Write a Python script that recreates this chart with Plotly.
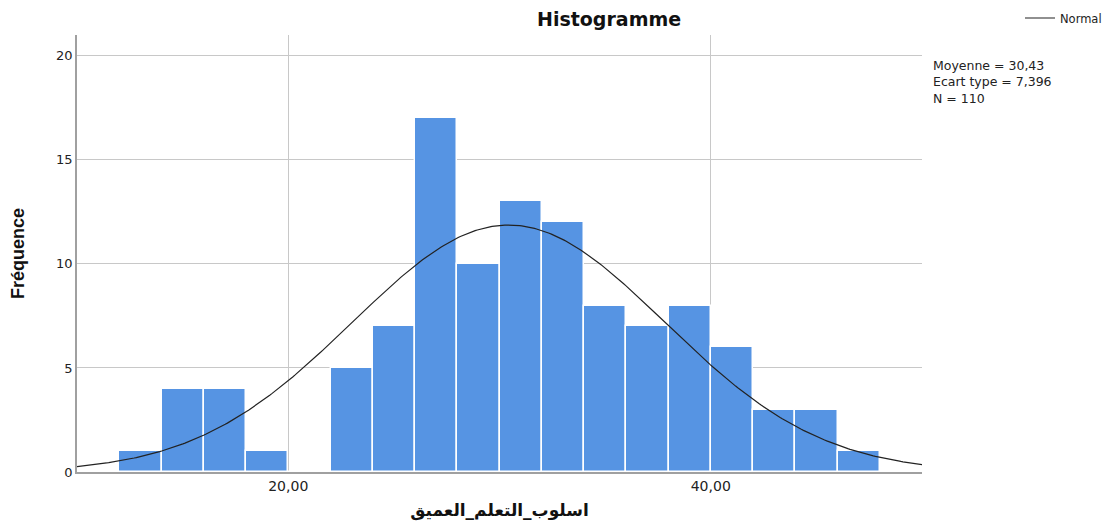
import numpy as np
import plotly.graph_objects as go

# Data
bin_starts = [12, 14, 16, 18, 20, 22, 24, 26, 28, 30, 32, 34, 36, 38, 40, 42, 44, 46]
counts = [1, 4, 4, 1, 0, 5, 7, 17, 10, 13, 12, 8, 7, 8, 6, 3, 3, 1]
bin_width = 2
mean_val = 30.43
sd_val = 7.396
n_val = 110
x_tick_vals = [20, 40]
x_tick_text = ["20,00", "40,00"]
y_tick_vals = [0, 5, 10, 15, 20]
stats_lines = ["Moyenne = 30,43", "Ecart type = 7,396", "N = 110"]

centers = [b + bin_width / 2 for b in bin_starts]
xs = np.linspace(10, 50, 400)
ys = n_val * bin_width / (sd_val * np.sqrt(2 * np.pi)) * np.exp(-0.5 * ((xs - mean_val) / sd_val) ** 2)

OFF = 8  # page body margin
L, R, T, B = 77 - OFF, 922 - OFF, 35 - OFF, 472 - OFF
W, H = 1111 - OFF, 530 - OFF
PW, PH = R - L, B - T


def px_x(x):
    return (x - OFF - L) / PW


def px_y(y):
    return (B - (y - OFF)) / PH


fig = go.Figure()
fig.add_trace(go.Bar(
    x=centers, y=counts, width=[bin_width] * len(centers),
    marker=dict(color="#5694E3", line=dict(color="white", width=1.5)),
    showlegend=False, hoverinfo="x+y"))
fig.add_trace(go.Scatter(
    x=xs, y=ys, mode="lines", line=dict(color="#222222", width=1.2),
    name="Normal", showlegend=True))

annotations = [
    dict(text="<b>Histogramme</b>", x=px_x(609), xref="paper", y=px_y(19), yref="paper",
         xanchor="center", yanchor="middle", showarrow=False,
         font=dict(size=19, family="DejaVu Sans, sans-serif", color="#111111")),
    dict(text="<br>".join(stats_lines), x=px_x(931), xref="paper", y=px_y(56), yref="paper",
         xanchor="left", yanchor="top", align="left", showarrow=False,
         font=dict(size=12.5, family="DejaVu Sans, sans-serif", color="#222222")),
]

fig.update_layout(
    width=W, height=H,
    margin=dict(l=L, r=W - R, t=T, b=H - B, autoexpand=False),
    paper_bgcolor="white", plot_bgcolor="white",
    font=dict(family="DejaVu Sans, sans-serif", color="#222222", size=13),
    bargap=0,
    legend=dict(x=px_x(1020), y=px_y(18), xanchor="left", yanchor="middle",
                font=dict(size=11.5, family="DejaVu Sans, sans-serif"),
                bgcolor="rgba(0,0,0,0)", itemwidth=30),
    xaxis=dict(range=[10, 50], tickvals=x_tick_vals, ticktext=x_tick_text,
               showgrid=True, gridcolor="#c8c8c8", gridwidth=1,
               showline=True, linecolor="#a0a0a0", linewidth=1.5,
               ticks="", zeroline=False, tickfont=dict(size=14),
               title=dict(text="<b>اسلوب_التعلم_العميق</b>",
                          font=dict(size=17, family="DejaVu Sans, sans-serif", color="#111111"),
                          standoff=12)),
    yaxis=dict(range=[0, 21], tickvals=y_tick_vals,
               showgrid=True, gridcolor="#c8c8c8", gridwidth=1,
               showline=True, linecolor="#a0a0a0", linewidth=1.5,
               ticks="", zeroline=False, tickfont=dict(size=13),
               title=dict(text="<b>Fréquence</b>",
                          font=dict(size=18, family="Liberation Sans Narrow, Arial Narrow, sans-serif",
                                    color="#111111"),
                          standoff=30)),
    annotations=annotations,
)

fig.write_html("out.html")
